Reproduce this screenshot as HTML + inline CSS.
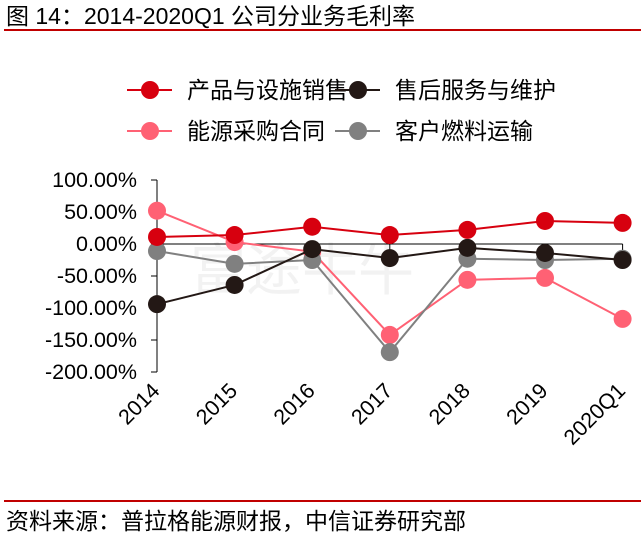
<!DOCTYPE html>
<html><head><meta charset="utf-8"><style>
body{margin:0;background:#fff;width:641px;height:535px;overflow:hidden;font-family:"Liberation Sans","Noto Sans CJK SC",sans-serif}
</style></head><body>
<svg width="641" height="535" xmlns="http://www.w3.org/2000/svg" font-family="Liberation Sans, Noto Sans CJK SC, sans-serif">
<text x="6" y="24" font-size="23" fill="#000">图 14：2014-2020Q1 公司分业务毛利率</text>
<rect x="4" y="29" width="637" height="2" fill="#C00000"/>
<g id="legend"></g>
<g id="watermark" opacity="0.1"><text x="190" y="290" font-size="56" fill="#888">富途牛牛</text></g>
<g id="axes"></g>
<g id="series"></g>
<rect x="4" y="500" width="637" height="2" fill="#C00000"/>
<text x="6" y="529" font-size="23" fill="#000">资料来源：普拉格能源财报，中信证券研究部</text>
</svg>
<script>
const categories=["2014","2015","2016","2017","2018","2019","2020Q1"];
const seriesNames=["产品与设施销售","售后服务与维护","能源采购合同","客户燃料运输"];
const productSales=[11,14,27,14,22,36,33];
const afterService=[-94,-64,-8,-22,-6,-14,-25];
const energyContract=[52,3,-12,-142,-56,-53,-117];
const fuelDelivery=[-11,-31,-25,-169,-23,-25,-23];
const yTicks=[100,50,0,-50,-100,-150,-200];
const yTickLabels=["100.00%","50.00%","0.00%","-50.00%","-100.00%","-150.00%","-200.00%"];
const colors=["#D7000F","#231815","#FF6174","#808080"];
const NS="http://www.w3.org/2000/svg";
function el(t,a,p){const e=document.createElementNS(NS,t);for(const k in a)e.setAttribute(k,a[k]);p.appendChild(e);return e;}
const xs=i=>157+i*77.6;
const ys=v=>244-v/50*32;
const axes=document.getElementById('axes');
let ya=el('line',{x1:157,y1:180,x2:157,y2:372,stroke:'#000','stroke-width':1},axes);


yTicks.forEach((v,i)=>{
 el('line',{x1:151,y1:ys(v),x2:157,y2:ys(v),stroke:'#000'},axes);
 const t=el('text',{x:137,y:ys(v)+7,'font-size':21.5,'text-anchor':'end',fill:'#000'},axes);
 t.textContent=yTickLabels[i];
 
 
});
let xa=el('line',{x1:157,y1:244,x2:xs(6),y2:244,stroke:'#000'},axes);


categories.forEach((c,i)=>{
 el('line',{x1:xs(i),y1:244,x2:xs(i),y2:250,stroke:'#000'},axes);
 const ex=xs(i)+4, ey=392;
 const t=el('text',{x:ex,y:ey,'font-size':21.5,'text-anchor':'end',fill:'#000',transform:`rotate(-45 ${ex} ${ey})`},axes);
 t.textContent=c;
 
 
});
const data=[productSales,afterService,energyContract,fuelDelivery];
const sg=document.getElementById('series');
const order=[2,3,1,0];
order.forEach(s=>{
 const g=el('g',{},sg);
 
 
 el('polyline',{points:data[s].map((v,i)=>xs(i)+','+ys(v)).join(' '),fill:'none',stroke:colors[s],'stroke-width':2},g);
 data[s].forEach((v,i)=>{
  const c=el('circle',{cx:xs(i),cy:ys(v),r:9,fill:colors[s]},g);
  
  
 });
});
const lg=document.getElementById('legend');
const lpos=[[127,90],[335,90],[127,131],[335,131]];
seriesNames.forEach((n,i)=>{
 const [x,y]=lpos[i];
 const g=el('g',{},lg);
 
 
 el('line',{x1:x,y1:y,x2:x+45,y2:y,stroke:colors[i],'stroke-width':2},g);
 el('circle',{cx:x+23,cy:y,r:9,fill:colors[i]},g);
 const t=el('text',{x:x+60,y:y+8,'font-size':23,fill:'#000'},g);
 t.textContent=n;
});
</script>
</body></html>
